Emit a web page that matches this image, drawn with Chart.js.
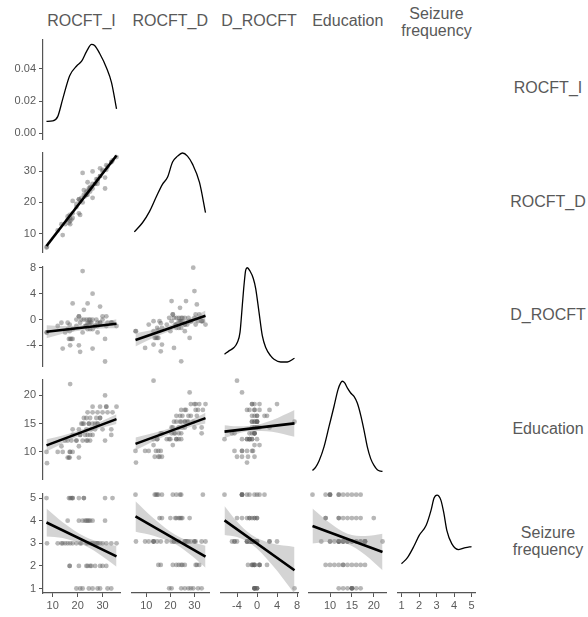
<!DOCTYPE html>
<html>
<head>
<meta charset="utf-8">
<script src="https://cdn.jsdelivr.net/npm/chart.js@4.4.0/dist/chart.umd.min.js"></script>
<style>
	body { margin: 0; background: #fff; width: 588px; height: 617px; position: relative; overflow: hidden; font-family: "Liberation Sans", Arial, sans-serif; }
	canvas { position: absolute; }
	.lbl { position: absolute; color: #595959; font-size: 16px; line-height: 17px; text-align: center; white-space: pre; transform: translate(-50%, -50%); }
</style>
</head>
<body>
<script>
	// Variable names (column strips on top, row strips on the right)
	var varNames = ['ROCFT_I', 'ROCFT_D', 'D_ROCFT', 'Education', 'Seizure\nfrequency'];

	// One entry per subject
	var rocftI = [
		7.5, 16.5, 17, 17.5, 18, 18, 20.5, 22.5, 22.5, 31, 34,
		null,
		16, 20.5, 22, 23, 23.5, 24, 24.5, 25, 26, 31,
		7.7, 12, 13.5, 14, 15, 16, 17, 18, 19.5, 21, 21.5, 23.5, 24, 25, 26, 26, 27, 27.5, 28, 28, 29, 30, 31.5, 33.5, 35.6,
		16.8, 16.8, 20.5, 23.5, 24, 25, 25.5, 27, 29, 30, 31.5,
		19.5, 21, 22, 24.5, 26, 28, 29, 32, 33.5
	];
	var rocftD = [
		5.5, 13.5, 14, 14.5, 16.5, 15, 21, 22.5, 24, 24.5, 33.5,
		null,
		15.5, 16.5, 20, 22, 23.5, 22.5, 24, 25, 24.5, 28,
		5.7, 11, 13, 9.5, 13, 14.5, 13, 20.5, 18.5, 16, 21.5, 22.5, 26.5, 23.5, 30, 21.5, 26, 27.5, 27, 26, 28.5, 30, 30.5, 33, 34.6,
		15, 16, 21, 22.5, 23.5, 24.5, 25, 26, 31, 30.5, 32,
		19.5, 20.5, 29.5, 24.5, 26, 27.5, 28.5, 31.5, 33
	];
	var dRocft = [
		-2, -3, -3, -3, -1.5, -3, 0.5, 0, 1.5, -6.5, -0.5,
		null,
		-0.5, -4, -2, -1, 0, -1.5, -0.5, 0, -1.5, -3,
		-2, -1, -0.5, -4.5, -2, -1.5, -4, 2.5, -1, -5, 0, -1, 2.5, -1.5, 4, -4.5, -1, 0, -1, -2, -0.5, 0, -1, -0.5, -1,
		-1.8, -0.8, 0.5, -1, -0.5, -0.5, -0.5, -1, 2, 0.5, 0.5,
		0, -0.5, 7.5, 0, 0, -0.5, -0.5, -0.5, -0.5
	];
	var education = [
		10, 9, 10, 12, 13, 10, 14, 15, 16, 12, 17,
		6,
		9, 9, 12, 13, 14, 12, 15, 16, 17, 20,
		8, 10, 11, 10, 12, 12, 22, 14, 12, 13, 15, 16, 17, 12, 18, 13, 14, 16, 15, 17, 18, 14, 18, 13, 18,
		9, 10, 11, 12, 13, 13, 14, 15, 16, 17, 18,
		12, 13, 15, 15, 15, 15, 16, 17, 14
	];
	var seizure = [
		5, 5, 5, 5, 5, 5, 5, 5, 5, 5, 5,
		5,
		4, 4, 4, 4, 4, 4, 4, 4, 4, 4,
		3, 3, 3, 3, 3, 3, 3, 3, 3, 3, 3, 3, 3, 3, 3, 3, 3, 3, 3, 3, 3, 3, 3, 3, 3,
		2, 2, 2, 2, 2, 2, 2, 2, 2, 2, 2,
		1, 1, 1, 1, 1, 1, 1, 1, 1
	];

	// Axis limits and tick labels per variable
	var axisMin = [6.1, 4.05, -7.2, 5.2, 0.8];
	var axisMax = [37.0, 36.05, 8.2, 22.8, 5.2];
	var axisTicks = [[10, 20, 30], [10, 20, 30], [-4, 0, 4, 8], [10, 15, 20], [1, 2, 3, 4, 5]];
	var densityTicks = [0, 0.02, 0.04];

	// Diagonal densities [x, y]; first one in density units, the others as share of panel height
	var densRocftI = [[7.5, 0.0073], [10, 0.0076], [12, 0.0103], [14, 0.0212], [16.8, 0.0358], [19.6, 0.0418], [21.6, 0.0448], [23.6, 0.0509], [25.6, 0.0552], [26.8, 0.0545], [28.8, 0.0497], [31.6, 0.0406], [33.6, 0.0315], [35.6, 0.0152]];
	var densRocftD = [[5.0, 0.196], [8.4, 0.284], [11.3, 0.392], [14.2, 0.539], [16.7, 0.657], [18.8, 0.725], [20.9, 0.873], [23.0, 0.931], [25.0, 0.961], [27.1, 0.931], [29.2, 0.853], [32.1, 0.676], [34.6, 0.382]];
	var densDRocft = [[-6.5, 0.115], [-5.6, 0.147], [-4.6, 0.179], [-3.94, 0.228], [-3.4, 0.326], [-2.94, 0.588], [-2.6, 0.784], [-2.26, 0.931], [-1.94, 0.954], [-1.4, 0.922], [-0.74, 0.850], [-0.26, 0.752], [0.4, 0.523], [1.06, 0.294], [1.74, 0.179], [2.74, 0.098], [3.4, 0.066], [4.74, 0.039], [6.06, 0.039], [7.5, 0.075]];
	var densEducation = [[6.0, 0.083], [6.73, 0.116], [7.49, 0.175], [8.63, 0.312], [9.77, 0.508], [10.91, 0.704], [11.83, 0.868], [12.45, 0.933], [12.81, 0.949], [13.36, 0.933], [13.96, 0.884], [14.73, 0.835], [15.49, 0.802], [16.24, 0.737], [17.0, 0.623], [17.77, 0.475], [18.53, 0.312], [19.3, 0.198], [20.06, 0.132], [20.81, 0.090], [21.57, 0.076], [22.0, 0.074]];
	var densSeizure = [[1.0, 0.284], [1.34, 0.343], [1.73, 0.461], [2.01, 0.559], [2.41, 0.657], [2.69, 0.804], [2.86, 0.922], [3.03, 0.951], [3.25, 0.902], [3.42, 0.775], [3.59, 0.608], [3.87, 0.480], [4.27, 0.422], [4.66, 0.441], [5.0, 0.451]];

	// Linear fits with confidence band, rows are [x, lower, fit, upper]
	var smoothDvsI = [[7.5, 5.2, 6.0, 6.8], [14, 12.2, 12.7, 13.2], [23, 21.7, 22.05, 22.4], [30, 28.8, 29.3, 29.8], [35.6, 34.4, 35.1, 35.8]];
	var smoothDiffVsI = [[7.5, -2.9, -1.9, -0.9], [14, -2.2, -1.6, -1.0], [23, -1.6, -1.2, -0.8], [30, -1.4, -0.9, -0.4], [35.6, -1.35, -0.65, 0.05]];
	var smoothDiffVsD = [[5.5, -4.3, -3.3, -2.3], [13, -2.97, -2.37, -1.77], [22, -1.66, -1.26, -0.86], [29, -0.89, -0.39, 0.11], [34.6, -0.5, 0.3, 1.1]];
	var smoothEduVsI = [[7.5, 10.05, 11.15, 12.25], [14, 11.5, 12.2, 12.9], [23, 13.25, 13.7, 14.15], [30, 14.3, 14.9, 15.5], [35.6, 14.95, 15.8, 16.65]];
	var smoothEduVsD = [[5.5, 10.1, 11.2, 12.3], [13, 11.65, 12.35, 13.05], [22, 13.25, 13.7, 14.15], [29, 14.15, 14.75, 15.35], [34.6, 14.7, 15.6, 16.5]];
	var smoothEduVsDiff = [[-6.5, 12.2, 13.3, 14.4], [-4, 12.91, 13.56, 14.21], [-1.2, 13.39, 13.84, 14.29], [3, 13.26, 14.26, 15.26], [7.5, 12.4, 14.7, 17.0]];
	var smoothSeizVsI = [[7.5, 3.3, 3.92, 4.54], [14, 3.23, 3.58, 3.93], [23, 2.89, 3.09, 3.29], [30, 2.42, 2.72, 3.02], [35.6, 1.96, 2.42, 2.88]];
	var smoothSeizVsD = [[5.5, 3.42, 4.07, 4.72], [13, 3.25, 3.62, 3.99], [22, 2.89, 3.09, 3.29], [29, 2.38, 2.68, 2.98], [34.6, 1.88, 2.35, 2.82]];
	var smoothSeizVsDiff = [[-6.5, 3.28, 3.9, 4.52], [-4, 3.19, 3.52, 3.85], [-1.2, 2.9, 3.1, 3.3], [3, 2.01, 2.46, 2.91], [7.5, 0.77, 1.77, 2.77]];
	var smoothSeizVsEdu = [[6, 2.91, 3.66, 4.41], [10, 2.99, 3.39, 3.79], [14, 2.89, 3.11, 3.33], [18, 2.43, 2.83, 3.23], [22, 1.77, 2.55, 3.33]];

	(function () {
		'use strict';

		var columns   = [rocftI, rocftD, dRocft, education, seizure];
		var densities = [densRocftI, densRocftD, densDRocft, densEducation, densSeizure];
		var smooths   = {
			'1-0': smoothDvsI,
			'2-0': smoothDiffVsI, '2-1': smoothDiffVsD,
			'3-0': smoothEduVsI, '3-1': smoothEduVsD, '3-2': smoothEduVsDiff,
			'4-0': smoothSeizVsI, '4-1': smoothSeizVsD, '4-2': smoothSeizVsDiff, '4-3': smoothSeizVsEdu
		};

		// Panel geometry
		var W = 77, H = 103;
		var PAD_L = 45, PAD_T = 6, PAD_R = 6, PAD_B = 26;
		function x0(c) { return 43 + 88.75 * c; }
		function y0(r) { return 35.5 + 113.6 * r; }

		var axisColor = '#555555';
		var textColor = '#5a5a5a';

		Chart.defaults.font.family = '"Liberation Sans", Arial, sans-serif';

		function shownAxis(min, max, ticks, isX, fmt) {
			return {
				type: 'linear',
				position: isX ? 'bottom' : 'left',
				min: min,
				max: max,
				afterBuildTicks: function (s) {
					s.ticks = ticks.map(function (v) { return { value: v }; });
				},
				afterFit: function (s) {
					if (isX) { s.height = PAD_B; } else { s.width = PAD_L; }
				},
				ticks: {
					color: textColor,
					font: { size: 11 },
					padding: isX ? 2 : 3,
					autoSkip: false,
					maxRotation: 0,
					callback: function (v) { return fmt ? fmt(v) : String(v); }
				},
				grid: { display: true, drawOnChartArea: false, drawTicks: true, tickLength: 4, color: axisColor, lineWidth: 1 },
				border: { display: true, color: axisColor, width: 1.2 }
			};
		}

		function hiddenAxis(min, max) {
			return { type: 'linear', display: false, min: min, max: max };
		}

		function toPoints(xs, ys) {
			var pts = [];
			for (var i = 0; i < xs.length; i++) {
				if (xs[i] !== null && ys[i] !== null) {
					pts.push({ x: xs[i], y: ys[i] });
				}
			}
			return pts;
		}

		function makePanel(r, c) {
			var canvas = document.createElement('canvas');
			canvas.width  = W + PAD_L + PAD_R;
			canvas.height = H + PAD_T + PAD_B;
			canvas.style.left = (x0(c) - PAD_L) + 'px';
			canvas.style.top  = (y0(r) - PAD_T) + 'px';
			document.body.appendChild(canvas);

			var datasets = [];
			var yMin, yMax, yTicks = null, yFmt = null;

			if (r === c) {
				datasets.push({
					type: 'line',
					data: densities[c].map(function (p) { return { x: p[0], y: p[1] }; }),
					borderColor: '#000',
					borderWidth: 1.3,
					pointRadius: 0,
					fill: false,
					cubicInterpolationMode: 'monotone'
				});
				if (r === 0) {
					yMin = -0.0036; yMax = 0.0582; yTicks = densityTicks;
					yFmt = function (v) { return v.toFixed(2); };
				} else {
					yMin = 0; yMax = 1;
				}
			} else {
				var sm = smooths[r + '-' + c];
				var last = sm[sm.length - 1];
				datasets.push({
					type: 'line',
					data: [{ x: sm[0][0], y: sm[0][2] }, { x: last[0], y: last[2] }],
					borderColor: '#000',
					borderWidth: 2.6,
					pointRadius: 0,
					fill: false,
					order: 0
				});
				datasets.push({
					type: 'line',
					data: sm.map(function (p) { return { x: p[0], y: p[3] }; }),
					borderColor: 'rgba(0,0,0,0)',
					backgroundColor: 'rgba(153,153,153,0.42)',
					pointRadius: 0,
					fill: '+1',
					cubicInterpolationMode: 'monotone',
					order: 1
				});
				datasets.push({
					type: 'line',
					data: sm.map(function (p) { return { x: p[0], y: p[1] }; }),
					borderColor: 'rgba(0,0,0,0)',
					pointRadius: 0,
					fill: false,
					cubicInterpolationMode: 'monotone',
					order: 1
				});
				datasets.push({
					type: 'scatter',
					data: toPoints(columns[c], columns[r]),
					backgroundColor: 'rgba(95,95,95,0.45)',
					borderWidth: 0,
					pointRadius: 2.4,
					order: 2
				});
				yMin = axisMin[r]; yMax = axisMax[r];
				if (c === 0) { yTicks = axisTicks[r]; }
			}

			var scales = {
				x: r === 4 ? shownAxis(axisMin[c], axisMax[c], axisTicks[c], true) : hiddenAxis(axisMin[c], axisMax[c]),
				y: c === 0 ? shownAxis(yMin, yMax, yTicks, false, yFmt) : hiddenAxis(yMin, yMax)
			};

			new Chart(canvas, {
				type: 'scatter',
				data: { datasets: datasets },
				options: {
					responsive: false,
					animation: false,
					devicePixelRatio: 1,
					events: [],
					layout: {
						padding: { left: c === 0 ? 0 : PAD_L, top: PAD_T, right: PAD_R, bottom: r === 4 ? 0 : PAD_B }
					},
					plugins: { legend: { display: false }, tooltip: { enabled: false } },
					scales: scales
				}
			});
		}

		function addLabel(text, x, y) {
			var d = document.createElement('div');
			d.className   = 'lbl';
			d.textContent = text;
			d.style.left  = x + 'px';
			d.style.top   = y + 'px';
			document.body.appendChild(d);
		}

		for (var r = 0; r < 5; r++) {
			for (var c = 0; c <= r; c++) {
				makePanel(r, c);
			}
		}

		// Strip labels
		for (var i = 0; i < 5; i++) {
			var twoLines = varNames[i].indexOf('\n') >= 0;
			addLabel(varNames[i], x0(i) + W / 2, twoLines ? 21.5 : 20);
			addLabel(varNames[i], 548, y0(i) + H / 2);
		}
	})();
</script>
</body>
</html>
